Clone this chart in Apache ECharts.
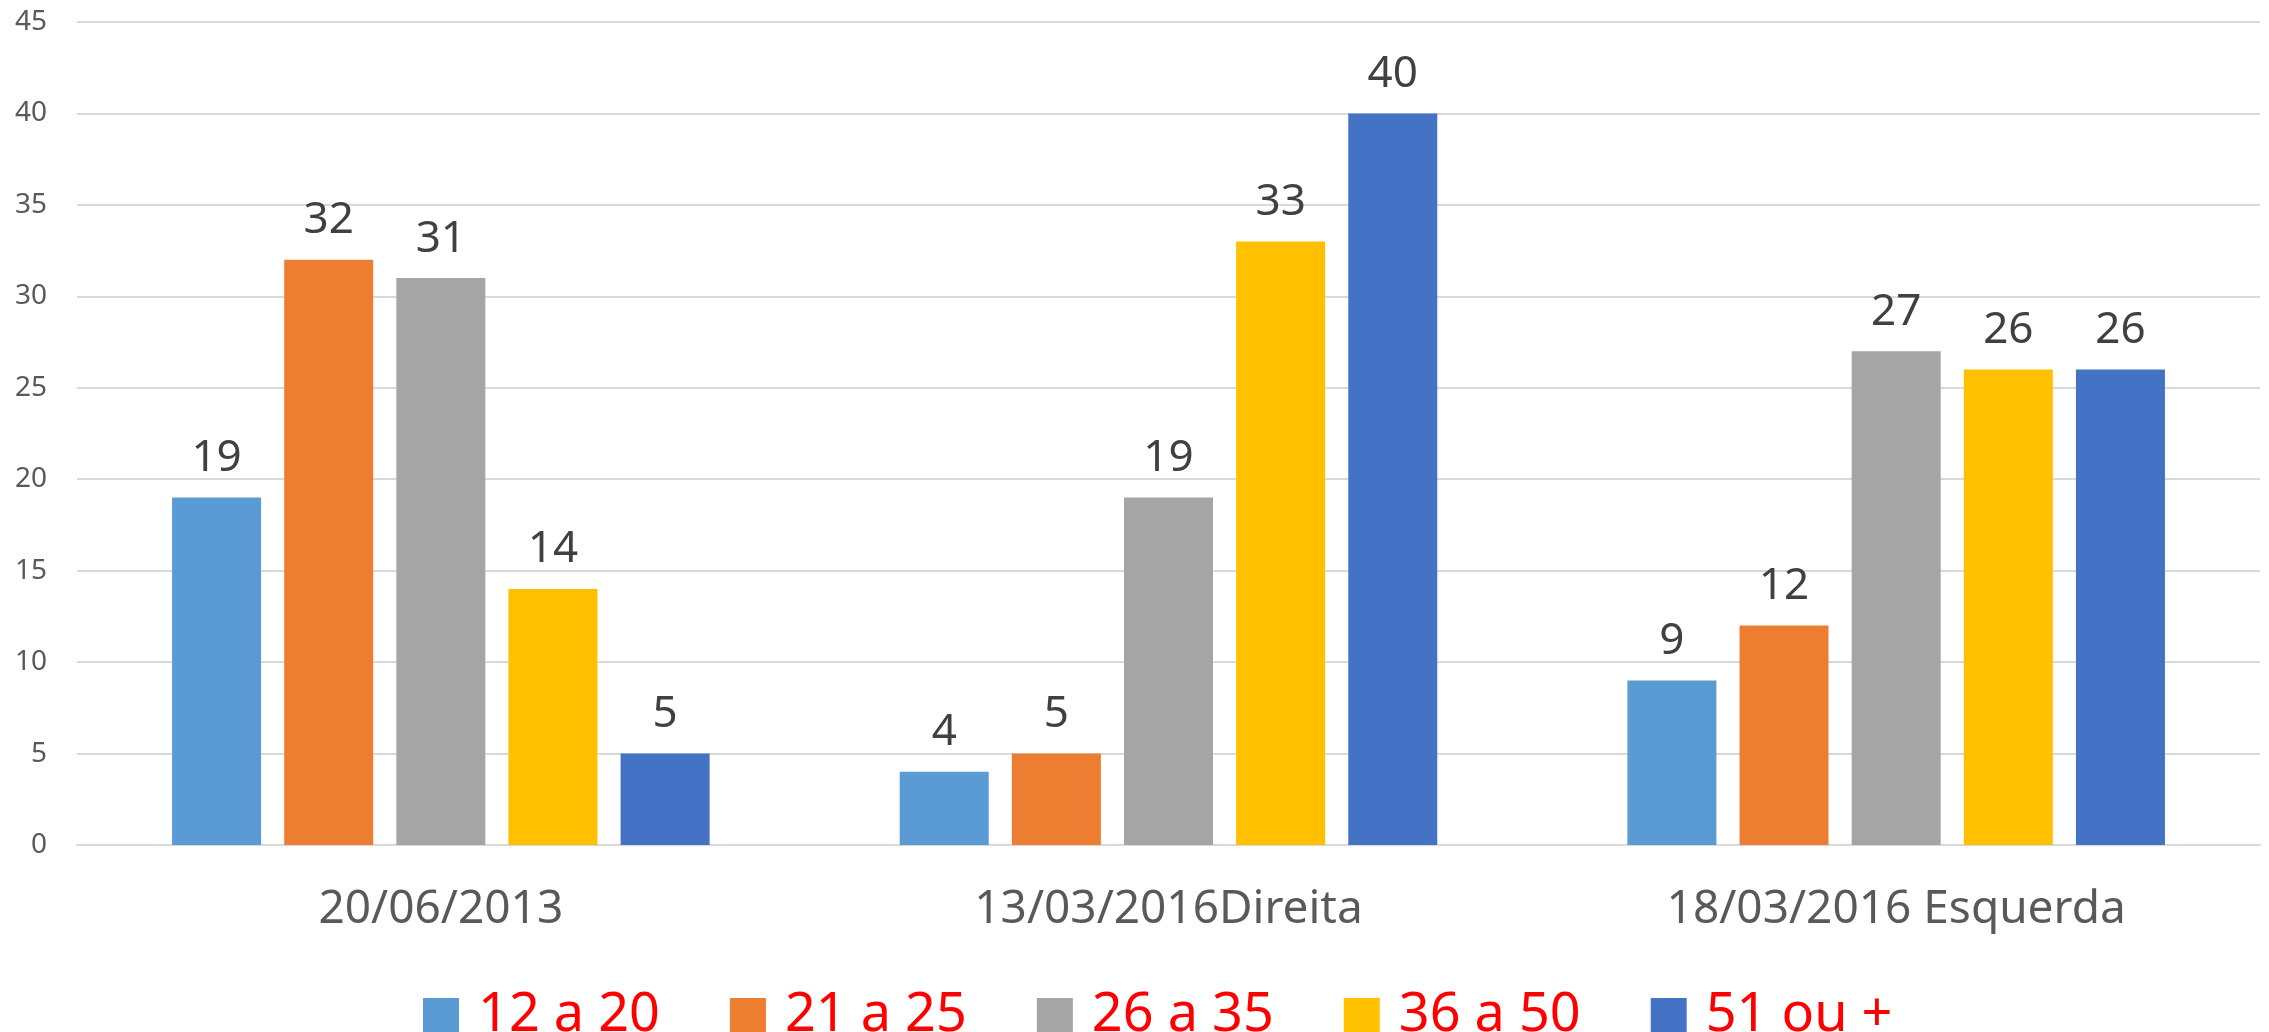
<!DOCTYPE html>
<html>
<head>
<meta charset="utf-8">
<script src="https://cdn.jsdelivr.net/npm/echarts@6/dist/echarts.min.js"></script>
<style>
  html, body { margin: 0; padding: 0; background: #fff; }
  #chart { width: 2269px; height: 1032px; }
</style>
</head>
<body>
<div id="chart"></div>
<script>
const categories = ['20/06/2013', '13/03/2016Direita', '18/03/2016 Esquerda'];
const seriesNames = ['12 a 20', '21 a 25', '26 a 35', '36 a 50', '51 ou +'];
const age12to20 = [19, 4, 9];
const age21to25 = [32, 5, 12];
const age26to35 = [31, 19, 27];
const age36to50 = [14, 33, 26];
const age51plus = [5, 40, 26];
const seriesColors = ['#5B9BD5', '#ED7D31', '#A5A5A5', '#FFC000', '#4472C4'];

const values = [age12to20, age21to25, age26to35, age36to50, age51plus];
const font = '"Noto Sans", sans-serif';

const chart = echarts.init(document.getElementById('chart'));

chart.setOption({
  backgroundColor: '#fff',
  animation: false,
  grid: { left: 77, right: 9, top: 22, bottom: 187 },
  legend: {
    data: seriesNames,
    top: 984,
    left: 418,
    icon: 'rect',
    itemWidth: 36,
    itemHeight: 36,
    itemGap: 70,
    textStyle: { color: '#FF0000', fontSize: 54, fontFamily: font, padding: [0, 0, 0, 14] }
  },
  xAxis: {
    type: 'category',
    data: categories,
    axisLine: { lineStyle: { color: '#D9D9D9', width: 2 } },
    axisTick: { show: false },
    axisLabel: { color: '#595959', fontSize: 46, fontFamily: font, margin: 42 }
  },
  yAxis: {
    type: 'value',
    min: 0,
    max: 45,
    interval: 5,
    axisLine: { show: false },
    axisTick: { show: false },
    splitLine: { lineStyle: { color: '#D9D9D9', width: 2 } },
    axisLabel: { color: '#595959', fontSize: 28, fontFamily: font, margin: 30 }
  },
  series: seriesNames.map((name, i) => ({
    name,
    type: 'bar',
    data: values[i],
    barWidth: 89,
    barGap: '26%',
    itemStyle: { color: seriesColors[i] },
    label: {
      show: true,
      position: 'top',
      distance: 17,
      color: '#404040',
      fontSize: 44,
      fontFamily: font
    }
  }))
});
</script>
</body>
</html>
